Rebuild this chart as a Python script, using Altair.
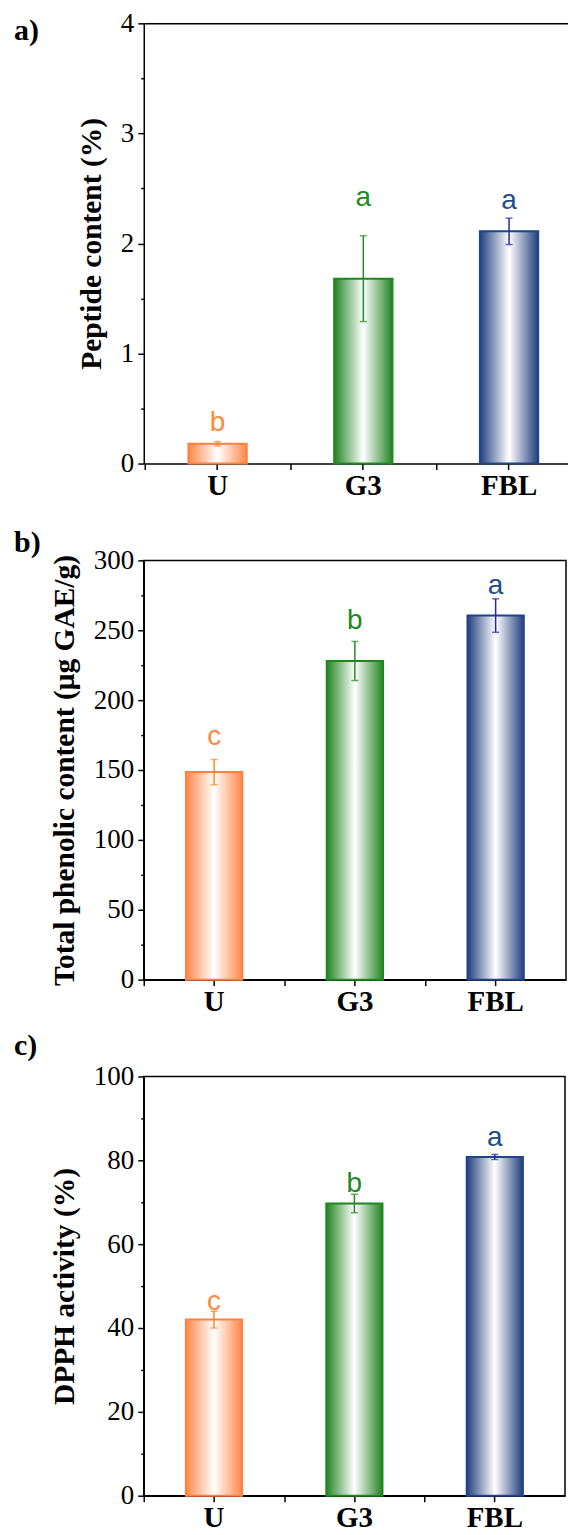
import altair as alt
import pandas as pd

# ---------------- data ----------------
categories = ["U", "G3", "FBL"]

panel_labels = ["a)", "b)", "c)"]
y_titles = ["Peptide content (%)", "Total phenolic content (μg GAE/g)", "DPPH activity (%)"]

peptide = [0.18, 1.68, 2.11]
peptide_err = [0.02, 0.39, 0.12]
peptide_letters = ["b", "a", "a"]
peptide_letter_y = [0.30, 2.34, 2.31]

phenolic = [148.5, 228.0, 260.5]
phenolic_err = [9.0, 14.0, 12.0]
phenolic_letters = ["c", "b", "a"]
phenolic_letter_y = [167.6, 250.7, 275.7]

dpph = [42.0, 69.7, 80.8]
dpph_err = [2.0, 2.2, 0.6]
dpph_letters = ["c", "b", "a"]
dpph_letter_y = [44.4, 72.4, 83.5]

peptide_major = [0, 1, 2, 3, 4]
peptide_minor = [0.5, 1.5, 2.5, 3.5]
phenolic_major = [0, 50, 100, 150, 200, 250, 300]
phenolic_minor = [25, 75, 125, 175, 225, 275]
dpph_major = [0, 20, 40, 60, 80, 100]
dpph_minor = [10, 30, 50, 70, 90]

# ---------------- style ----------------
SERIF = "Liberation Serif"
SANS = "Liberation Sans"
bar_edge = ["#FF8748", "#238423", "#223F7E"]
bar_stroke = ["#FF8040", "#1E881E", "#1F4488"]
err_colors = ["#FF8A2A", "#2A8A2A", "#2626A0"]
letter_colors = ["#FF8A3D", "#1F8A1F", "#234C8C"]


def gradient(c):
    return alt.Gradient(
        gradient="linear",
        stops=[
            alt.GradientStop(color=c, offset=0),
            alt.GradientStop(color="#FFFFFF", offset=0.5),
            alt.GradientStop(color=c, offset=1),
        ],
        x1=0, x2=1, y1=0, y2=0,
    )


def make_panel(label, label_y, ytitle, values, errs, letters, letter_y,
               majors, minors, w, h, step, outer, align, open_right=False):
    df = pd.DataFrame({
        "cat": categories, "value": values, "err": errs,
        "letter": letters, "ly": letter_y,
        "ecol": err_colors, "lcol": letter_colors,
    })
    xscale = alt.Scale(domain=categories, paddingInner=0.6, paddingOuter=outer,
                       align=align)
    x_main = alt.X("cat:N", scale=xscale, sort=categories, title=None,
                   axis=alt.Axis(orient="bottom", labelFont=SERIF, labelFontSize=29,
                                 labelFontWeight="bold", labelAngle=0, labelPadding=2,
                                 labelColor="black", tickSize=6, tickWidth=1.5,
                                 tickColor="black", domainWidth=1.5, domainColor="black",
                                 grid=False))
    x_minor = alt.X("cat:N", scale=xscale, sort=categories, title=None,
                    axis=alt.Axis(orient="bottom", labels=False, domain=False,
                                  tickSize=6, tickWidth=1.5, tickColor="black",
                                  tickOffset=-step / 2, grid=False))
    x_top = alt.X("cat:N", scale=xscale, sort=categories, title=None,
                  axis=alt.Axis(orient="top", labels=False, ticks=False, domain=True,
                                domainWidth=1.5, domainColor="black", grid=False))
    yscale = alt.Scale(domain=[0, majors[-1]], nice=False)
    y_axis = alt.Axis(orient="left", values=majors, labelFont=SERIF, labelFontSize=27,
                      labelColor="black", labelPadding=4, tickSize=6, tickWidth=1.5,
                      tickColor="black", domainWidth=1.5, domainColor="black",
                      grid=False, title=ytitle, titleFont=SERIF, titleFontSize=29.5,
                      titleFontWeight="bold", titleColor="black", titlePadding=14)
    y_minor = alt.Axis(orient="left", values=minors, labels=False, domain=False,
                       tickSize=3, tickWidth=1.5, tickColor="black", grid=False,
                       title=None)

    base = alt.Chart(df).transform_calculate(
        lo="datum.value - datum.err", hi="datum.value + datum.err")

    layers = []
    for c, edge, stroke in zip(categories, bar_edge, bar_stroke):
        layers.append(
            base.transform_filter(alt.datum.cat == c)
            .mark_bar(fill=gradient(edge), stroke=stroke, strokeWidth=2)
            .encode(x=x_main, y=alt.Y("value:Q", scale=yscale, axis=y_axis))
        )
    layers.append(
        base.mark_rule(strokeWidth=1.5).encode(
            x=x_main, y=alt.Y("lo:Q", scale=yscale, axis=y_axis), y2="hi:Q",
            color=alt.Color("ecol:N", scale=None))
    )
    for f in ["lo", "hi"]:
        layers.append(
            base.mark_tick(size=7, thickness=1.5).encode(
                x=x_main, y=alt.Y(f + ":Q", scale=yscale, axis=y_axis),
                color=alt.Color("ecol:N", scale=None))
        )
    layers.append(
        base.mark_text(font=SANS, fontSize=28, baseline="alphabetic").encode(
            x=x_main, y=alt.Y("ly:Q", scale=yscale, axis=y_axis),
            text="letter:N", color=alt.Color("lcol:N", scale=None))
    )
    lab_df = pd.DataFrame({"t": [label]})
    layers.append(
        alt.Chart(lab_df).mark_text(font=SERIF, fontSize=30, fontWeight="bold",
                                    align="left", baseline="alphabetic",
                                    color="black")
        .encode(x=alt.value(-130), y=alt.value(label_y), text="t:N")
    )
    main = alt.layer(*layers)
    minor = base.mark_point(opacity=0).encode(
        x=x_minor, y=alt.Y("value:Q", scale=yscale, axis=y_minor))
    parts = [main, minor]
    if open_right:
        parts.append(base.mark_point(opacity=0).encode(
            x=x_top, y=alt.Y("value:Q", scale=yscale, axis=None)))
    out = alt.layer(*parts).resolve_axis(x="independent", y="independent")
    if open_right:
        out = out.properties(width=w, height=h, view=alt.ViewBackground(stroke=None))
    else:
        out = out.properties(width=w, height=h)
    return out


pa = make_panel(panel_labels[0], 17, y_titles[0], peptide, peptide_err,
                peptide_letters, peptide_letter_y, peptide_major, peptide_minor,
                425, 441, 146, 0.2555, 0.6, open_right=True)
pb = make_panel(panel_labels[1], -8, y_titles[1], phenolic, phenolic_err,
                phenolic_letters, phenolic_letter_y, phenolic_major, phenolic_minor,
                423, 420, 141, 0.3, 0.5)
pc = make_panel(panel_labels[2], -21, y_titles[2], dpph, dpph_err,
                dpph_letters, dpph_letter_y, dpph_major, dpph_minor,
                422, 420, 140.7, 0.3, 0.5)

chart = alt.vconcat(pa, pb, pc, spacing=97, bounds="flush").properties(
    padding={"left": 5, "top": 0, "right": 0, "bottom": 0}
).configure_view(stroke="black", strokeWidth=1.5)

chart.save("out.html", embed_options={"renderer": "svg", "actions": False})
